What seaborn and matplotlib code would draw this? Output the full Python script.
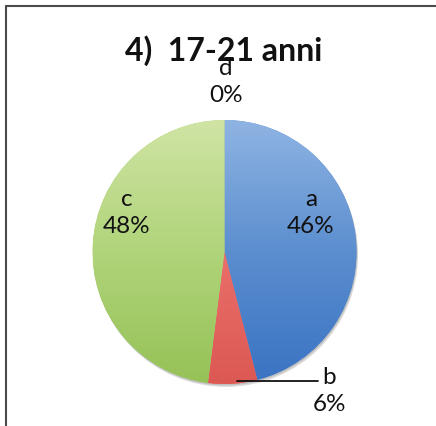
import numpy as np
import matplotlib
matplotlib.use("Agg")
import matplotlib.pyplot as plt
from matplotlib.lines import Line2D
from matplotlib.patches import Circle
import seaborn as sns

# Survey answers for the 17-21 age group
categories = ["a", "b", "c", "d"]
shares = [46, 6, 48, 0]
title = "4)  17-21 anni"

# Light-to-dark shading per slice (top to bottom)
slice_shades = {
    "a": ["#8fb4e3", "#5b8ecf", "#3a73c3"],
    "b": ["#f29290", "#ea6f6b", "#dc5853"],
    "c": ["#d0e4a4", "#b0d47a", "#95c257"],
    "d": ["#f2c46b", "#e8a93a", "#d8952a"],
}

sns.set_theme(style="white")
plt.rcParams["font.family"] = ["Lato", "DejaVu Sans"]

W, H, DPI = 436, 427, 100
fig = plt.figure(figsize=(W / DPI, H / DPI), dpi=DPI)
fig.patch.set_facecolor("white")

# Axes spanning the whole canvas; one data unit equals the pie radius
R_PX = 132.0
CX, CY = 224.5, 253.0  # pie centre in pixels from the top-left corner
ax = fig.add_axes([0, 0, 1, 1])

def px(x, y):
    """Pixel position (from top-left) to data coordinates."""
    return (x - CX) / R_PX, (CY - y) / R_PX

# soft shadow under the disc
ax.add_patch(Circle((0.012, -0.022), 1.0, color="#9a9a9a", alpha=0.35, lw=0, zorder=1))
ax.add_patch(Circle((0.006, -0.011), 1.0, color="#8a8a8a", alpha=0.35, lw=0, zorder=1))

wedges, _ = ax.pie(shares, startangle=90, counterclock=False,
                   radius=1.0, center=(0, 0), frame=True,
                   wedgeprops=dict(linewidth=0))
ax.set_aspect("equal")
ax.axis("off")

grad = np.linspace(0, 1, 256).reshape(-1, 1)
for cat, w in zip(categories, wedges):
    w.set_zorder(2)
    cmap = sns.blend_palette(slice_shades[cat], as_cmap=True)
    w.set_facecolor(slice_shades[cat][1])
    im = ax.imshow(grad, cmap=cmap, extent=(-1, 1, -1, 1), origin="upper",
                   aspect="auto", zorder=3, interpolation="bilinear")
    im.set_clip_path(w)

ax.set_xlim(-CX / R_PX, (W - CX) / R_PX)
ax.set_ylim(-(H - CY) / R_PX, CY / R_PX)

# slice labels
label_pos = {"a": (311, 213), "c": (127, 213), "d": (226, 82), "b": (329, 391)}
for cat, val in zip(categories, shares):
    x, y = px(*label_pos[cat])
    ax.text(x, y, f"{cat}\n{val}%", ha="center", va="center", fontsize=17.5,
            color="#111111", linespacing=1.32, zorder=5)

# leader line for the narrow slice
x0, y0 = px(237, 382)
x1, y1 = px(318, 382)
ax.add_line(Line2D([x0, x1], [y0, y1], color="#111111", lw=1.3, zorder=5))

# chart title
tx, ty = px(224, 51)
ax.text(tx, ty, title, ha="center", va="center", fontsize=23,
        fontweight="bold", color="#111111", zorder=4)

# frame edges along top and left
fig.add_artist(Line2D([6 / W, 1], [1 - 7 / H, 1 - 7 / H], color="#4a4a4a", lw=1.5))
fig.add_artist(Line2D([6 / W, 6 / W], [0, 1 - 7 / H], color="#4a4a4a", lw=1.5))

fig.savefig("out.png", dpi=DPI, facecolor="white")
